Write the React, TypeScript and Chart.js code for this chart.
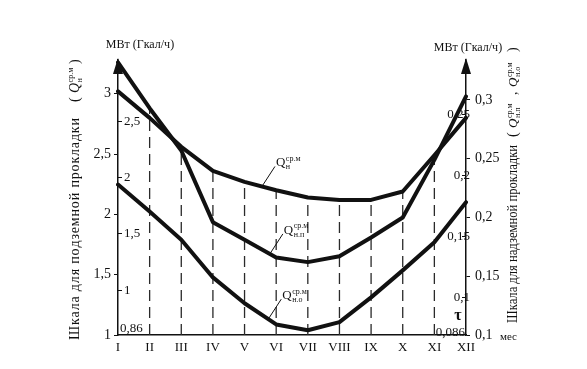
import React, { useEffect, useRef } from "react";
import { Chart, registerables } from "chart.js";

Chart.register(...registerables);

const SERIF = '"Liberation Serif", "DejaVu Serif", serif';
const INK = "#111";

// Data
const months = ["I", "II", "III", "IV", "V", "VI", "VII", "VIII", "IX", "X", "XI", "XII"];
// Q_н^ср.м — underground scale, MW (left outer axis)
const qN = [3.02, 2.8, 2.56, 2.36, 2.27, 2.2, 2.14, 2.12, 2.12, 2.19, 2.49, 2.8];
// Q_н.п^ср.м — overground scale, MW (right outer axis)
const qNP = [0.332, 0.293, 0.257, 0.196, 0.181, 0.166, 0.162, 0.167, 0.183, 0.2, 0.249, 0.303];
// Q_н.о^ср.м — overground scale, MW (right outer axis)
const qNO = [0.228, 0.205, 0.181, 0.149, 0.127, 0.109, 0.104, 0.111, 0.132, 0.155, 0.179, 0.213];

const leftOuterTicks = [1, 1.5, 2, 2.5, 3];
const leftInnerTicks = [1, 1.5, 2, 2.5];
const rightOuterTicks = [0.1, 0.15, 0.2, 0.25, 0.3];
const rightInnerTicks = [0.1, 0.15, 0.2, 0.25];
const leftOuterRange = [1, 3.28];
const leftInnerRange = [0.6, 3.05];
const rightOuterRange = [0.1, 0.334];
const rightInnerRange = [0.069, 0.295];

const fmt = (v: number) => String(v).replace(".", ",");

// draw text so that it spans exactly `target` px (spread or condensed)
function drawFit(ctx: CanvasRenderingContext2D, text: string, x: number, y: number, target: number) {
  const natural = ctx.measureText(text).width;
  if (natural >= target) {
    ctx.save();
    ctx.translate(x, y);
    ctx.scale(target / natural, 1);
    ctx.fillText(text, 0, 0);
    ctx.restore();
    return;
  }
  const chars = Array.from(text);
  const widths = chars.map((c) => ctx.measureText(c).width);
  const sum = widths.reduce((a, b) => a + b, 0);
  const extra = chars.length > 1 ? Math.max(0, (target - sum) / (chars.length - 1)) : 0;
  let cx = x;
  chars.forEach((c, i) => {
    ctx.fillText(c, cx, y);
    cx += widths[i] + extra;
  });
}

function drawQ(ctx: CanvasRenderingContext2D, x: number, y: number, sup: string, sub: string, size: number, italic: boolean) {
  ctx.font = `${italic ? "italic " : ""}${size}px ${SERIF}`;
  ctx.fillText("Q", x, y);
  const w = ctx.measureText("Q").width;
  const s = Math.max(6, Math.round(size * 0.58));
  ctx.font = `${s}px ${SERIF}`;
  ctx.fillText(sup, x + w + 0.5, y - size * 0.42);
  ctx.fillText(sub, x + w + 0.5, y + size * 0.22);
  return w + 0.5 + Math.max(ctx.measureText(sup).width, ctx.measureText(sub).width);
}

const curveLabels = [
  { ds: 0, sub: "н", seg: 4, t: 0.55 },
  { ds: 1, sub: "н.п", seg: 4, t: 0.8 },
  { ds: 2, sub: "н.о", seg: 4, t: 0.75 },
];

const decorPlugin = {
  id: "decor",
  beforeDatasetsDraw(chart: any) {
    const { ctx, chartArea } = chart;
    const metas = chart.getSortedVisibleDatasetMetas();
    ctx.save();
    ctx.strokeStyle = "#2a2a2a";
    ctx.lineWidth = 1.3;
    ctx.setLineDash([11, 6]);
    for (let i = 1; i < months.length - 1; i++) {
      const x = chart.scales.x.getPixelForValue(i);
      const top = Math.min(...metas.map((m: any) => m.data[i].y));
      ctx.beginPath();
      ctx.moveTo(x, chartArea.bottom);
      ctx.lineTo(x, top);
      ctx.stroke();
    }
    ctx.restore();
  },
  afterDraw(chart: any) {
    const { ctx, chartArea } = chart;
    const metas = chart.getSortedVisibleDatasetMetas();
    ctx.save();
    ctx.fillStyle = INK;
    ctx.strokeStyle = INK;

    // arrows on vertical axes
    [chartArea.left, chartArea.right].forEach((x: number) => {
      ctx.beginPath();
      ctx.moveTo(x, chartArea.top - 2);
      ctx.lineTo(x - 5, chartArea.top + 14);
      ctx.lineTo(x + 5, chartArea.top + 14);
      ctx.closePath();
      ctx.fill();
    });

    // units
    ctx.font = `12px ${SERIF}`;
    ctx.textAlign = "center";
    ctx.textBaseline = "middle";
    ctx.fillText("МВт (Гкал/ч)", chartArea.left + 22, 45);
    ctx.fillText("МВт (Гкал/ч)", chartArea.right + 2, 48);

    // bottom corner labels
    ctx.textBaseline = "alphabetic";
    ctx.font = `13px ${SERIF}`;
    ctx.textAlign = "left";
    ctx.fillText("0,86", chartArea.left + 2, chartArea.bottom - 3);
    ctx.textAlign = "right";
    ctx.fillText("0,086", chartArea.right - 1, chartArea.bottom + 1);
    ctx.font = `bold 16px ${SERIF}`;
    ctx.textAlign = "center";
    ctx.fillText("τ", chartArea.right - 8, chartArea.bottom - 15);
    ctx.font = `11px ${SERIF}`;
    ctx.textAlign = "left";
    ctx.fillText("мес", chartArea.right + 34, chartArea.bottom + 5);

    // curve labels with leaders
    curveLabels.forEach((cl) => {
      const pts = metas[cl.ds].data;
      const a = pts[cl.seg];
      const b = pts[cl.seg + 1];
      const px = a.x + (b.x - a.x) * cl.t;
      const py = a.y + (b.y - a.y) * cl.t;
      const ex = px + 13;
      const ey = py - 20;
      ctx.lineWidth = 1;
      ctx.beginPath();
      ctx.moveTo(px, py);
      ctx.lineTo(ex, ey);
      ctx.stroke();
      ctx.textAlign = "left";
      drawQ(ctx, ex + 1, ey, "ср.м", cl.sub, 13, false);
    });

    // rotated left title
    ctx.textAlign = "left";
    ctx.textBaseline = "alphabetic";
    ctx.save();
    ctx.translate(74, 340);
    ctx.rotate(-Math.PI / 2);
    ctx.font = `14px ${SERIF}`;
    drawFit(ctx, "Шкала для подземной прокладки", 0, 5, 222);
    ctx.font = `14px ${SERIF}`;
    ctx.fillText("(", 238, 5);
    drawQ(ctx, 247, 5, "ср.м", "н", 14, true);
    ctx.font = `14px ${SERIF}`;
    ctx.fillText(")", 276, 5);
    ctx.restore();

    // rotated right title
    ctx.save();
    ctx.translate(512, 323);
    ctx.rotate(-Math.PI / 2);
    ctx.font = `14px ${SERIF}`;
    drawFit(ctx, "Шкала для надземной прокладки", 0, 5, 178);
    ctx.font = `14px ${SERIF}`;
    ctx.fillText("(", 186, 5);
    drawQ(ctx, 195, 5, "ср.м", "н.п", 13, true);
    ctx.font = `14px ${SERIF}`;
    ctx.fillText(",", 228, 5);
    drawQ(ctx, 236, 5, "ср.м", "н.о", 13, true);
    ctx.font = `14px ${SERIF}`;
    ctx.fillText(")", 271, 5);
    ctx.restore();

    ctx.restore();
  },
};

export default function App() {
  const ref = useRef<HTMLCanvasElement | null>(null);
  useEffect(() => {
    if (!ref.current) return;
    const line = (data: number[], axis: string) => ({
      data,
      yAxisID: axis,
      borderColor: INK,
      borderWidth: 4,
      pointRadius: 0,
      tension: 0,
      fill: false,
      borderCapStyle: "round" as const,
      borderJoinStyle: "round" as const,
    });
    const setW = (w: number) => (s: any) => {
      s.width = w;
    };
    const chart = new Chart(ref.current, {
      type: "line",
      data: {
        labels: months,
        datasets: [line(qN, "yL"), line(qNP, "yR"), line(qNO, "yR")],
      },
      options: {
        responsive: false,
        animation: false,
        devicePixelRatio: 1,
        layout: { padding: { left: 78, right: 81, top: 60, bottom: 0 } },
        plugins: { legend: { display: false }, tooltip: { enabled: false } },
        scales: {
          x: {
            type: "category",
            offset: false,
            grid: { display: false, drawTicks: false },
            border: { display: true, color: INK, width: 1.5 },
            ticks: { color: INK, font: { family: SERIF, size: 13 }, padding: 5, autoSkip: false, maxRotation: 0 },
            afterFit: (s: any) => {
              s.height = 34;
            },
          },
          yL: {
            position: "left",
            weight: 1,
            min: leftOuterRange[0],
            max: leftOuterRange[1],
            afterBuildTicks: (s: any) => {
              s.ticks = leftOuterTicks.map((v) => ({ value: v }));
            },
            ticks: { color: INK, font: { family: SERIF, size: 14 }, padding: 3, callback: (v: any) => fmt(Number(v)) },
            grid: { drawOnChartArea: false, drawTicks: true, tickLength: 4, color: INK },
            border: { display: true, color: INK, width: 1.5 },
            afterFit: setW(40),
          },
          yLi: {
            position: "left",
            weight: 0,
            min: leftInnerRange[0],
            max: leftInnerRange[1],
            afterBuildTicks: (s: any) => {
              s.ticks = leftInnerTicks.map((v) => ({ value: v }));
            },
            ticks: { color: INK, font: { family: SERIF, size: 13 }, padding: 6, mirror: true, callback: (v: any) => fmt(Number(v)) },
            grid: { drawOnChartArea: false, drawTicks: true, tickLength: -4, color: INK },
            border: { display: false },
            afterFit: setW(0),
          },
          yR: {
            position: "right",
            weight: 1,
            min: rightOuterRange[0],
            max: rightOuterRange[1],
            afterBuildTicks: (s: any) => {
              s.ticks = rightOuterTicks.map((v) => ({ value: v }));
            },
            ticks: { color: INK, font: { family: SERIF, size: 14 }, padding: 5, callback: (v: any) => fmt(Number(v)) },
            grid: { drawOnChartArea: false, drawTicks: true, tickLength: 4, color: INK },
            border: { display: true, color: INK, width: 1.5 },
            afterFit: setW(40),
          },
          yRi: {
            position: "right",
            weight: 0,
            min: rightInnerRange[0],
            max: rightInnerRange[1],
            afterBuildTicks: (s: any) => {
              s.ticks = rightInnerTicks.map((v) => ({ value: v }));
            },
            ticks: { color: INK, font: { family: SERIF, size: 13 }, padding: 4, mirror: true, callback: (v: any) => fmt(Number(v)) },
            grid: { drawOnChartArea: false, drawTicks: true, tickLength: -4, color: INK },
            border: { display: false },
            afterFit: setW(0),
          },
        },
      },
      plugins: [decorPlugin],
    } as any);
    return () => chart.destroy();
  }, []);
  return (
    <div style={{ position: "fixed", left: 0, top: 0, width: 587, height: 369, background: "#fff" }}>
      <canvas ref={ref} width={587} height={369} />
    </div>
  );
}
